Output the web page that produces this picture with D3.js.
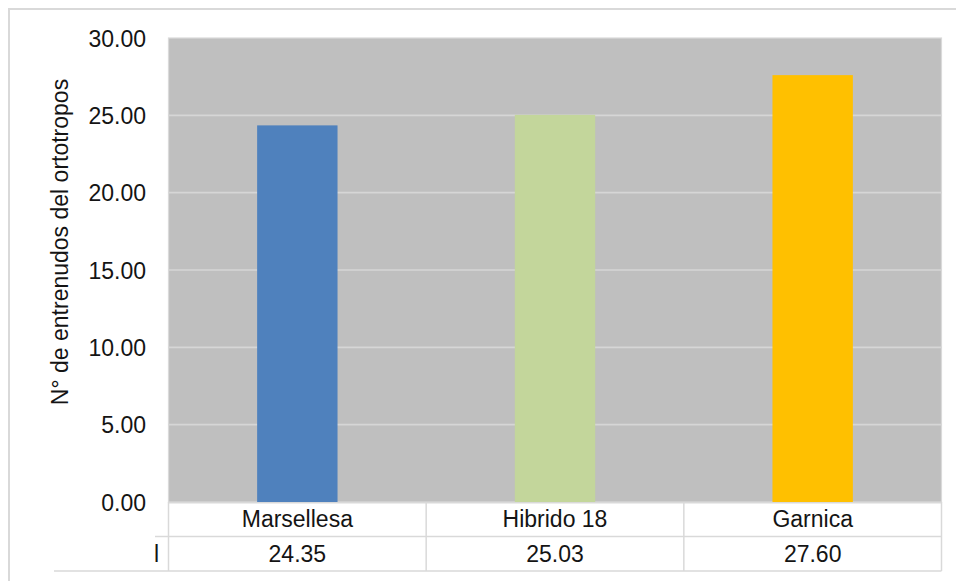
<!DOCTYPE html>
<html>
<head>
<meta charset="utf-8">
<script src="https://cdn.jsdelivr.net/npm/d3@7"></script>
<style>
  html, body { margin: 0; padding: 0; background: #fff; }
  svg { display: block; }
  text { font-family: "Liberation Sans", Arial, sans-serif; fill: #141414; }
</style>
</head>
<body>
<svg id="chart" width="956" height="581"></svg>
<script>
// Internode counts of the orthotropic stem per variety
const categories = ["Marsellesa", "Hibrido 18", "Garnica"];
const values = [24.35, 25.03, 27.60];
const barColors = ["#4f81bd", "#c3d69b", "#ffc000"];
const yTicks = [0, 5, 10, 15, 20, 25, 30];
const seriesName = "l";
const yTitle = "N° de entrenudos del ortotropos";

const svg = d3.select("#chart");
const plot = { left: 168.5, right: 941.5, top: 38, bottom: 502 };
const rowH = 34.5;

// outer chart frame
svg.append("rect")
  .attr("x", 9).attr("y", 9)
  .attr("width", 1000).attr("height", 1000)
  .attr("fill", "none")
  .attr("stroke", "#d9d9d9")
  .attr("stroke-width", 2);

const x = d3.scaleBand()
  .domain(categories)
  .range([plot.left, plot.right])
  .padding(0);

const y = d3.scaleLinear()
  .domain([0, 30])
  .range([plot.bottom, plot.top]);

// plot background
svg.append("rect")
  .attr("x", plot.left).attr("y", plot.top)
  .attr("width", plot.right - plot.left)
  .attr("height", plot.bottom - plot.top)
  .attr("fill", "#bfbfbf")
  .attr("stroke", "#dadada")
  .attr("stroke-width", 1.2);

// gridlines
svg.append("g")
  .selectAll("line")
  .data(yTicks.filter(t => t > 0 && t < 30))
  .join("line")
  .attr("x1", plot.left).attr("x2", plot.right)
  .attr("y1", d => y(d)).attr("y2", d => y(d))
  .attr("stroke", "#d6d6d6")
  .attr("stroke-width", 1.6);

// bars
const barFrac = 0.312;
svg.append("g")
  .selectAll("rect")
  .data(values)
  .join("rect")
  .attr("x", (d, i) => x(categories[i]) + x.bandwidth() * (1 - barFrac) / 2)
  .attr("width", x.bandwidth() * barFrac)
  .attr("y", d => y(d))
  .attr("height", d => y(0) - y(d))
  .attr("fill", (d, i) => barColors[i]);

// y axis labels
const yAxis = d3.axisLeft(y)
  .tickValues(yTicks)
  .tickFormat(d3.format(".2f"))
  .tickSize(0)
  .tickPadding(0);
const gy = svg.append("g")
  .attr("transform", `translate(146,0)`)
  .call(yAxis);
gy.select(".domain").remove();
gy.selectAll("text")
  .attr("font-size", 23)
  .attr("font-family", "'Liberation Sans', Arial, sans-serif")
  .attr("fill", "#141414")
  .attr("dy", "0.36em");

// y axis title
svg.append("text")
  .attr("transform", "translate(68,242) rotate(-90)")
  .attr("text-anchor", "middle")
  .attr("font-size", 23)
  .text(yTitle);

// data table below the plot
const tbl = svg.append("g").attr("stroke", "#d9d9d9").attr("stroke-width", 1.5);
tbl.append("line").attr("x1", plot.left).attr("x2", plot.right)
  .attr("y1", plot.bottom + 0.8).attr("y2", plot.bottom + 0.8);
tbl.append("line").attr("x1", 155).attr("x2", plot.right)
  .attr("y1", plot.bottom + rowH).attr("y2", plot.bottom + rowH);
tbl.append("line").attr("x1", 54).attr("x2", plot.right)
  .attr("y1", plot.bottom + 2 * rowH).attr("y2", plot.bottom + 2 * rowH);
const edges = categories.map(c => x(c)).concat([plot.right]);
tbl.selectAll(".v")
  .data(edges)
  .join("line")
  .attr("x1", d => d).attr("x2", d => d)
  .attr("y1", plot.bottom).attr("y2", plot.bottom + 2 * rowH);

svg.append("g")
  .selectAll("text")
  .data(categories)
  .join("text")
  .attr("x", d => x(d) + x.bandwidth() / 2)
  .attr("y", plot.bottom + 24.5)
  .attr("text-anchor", "middle")
  .attr("font-size", 23)
  .text(d => d);

svg.append("g")
  .selectAll("text")
  .data(values)
  .join("text")
  .attr("x", (d, i) => x(categories[i]) + x.bandwidth() / 2)
  .attr("y", plot.bottom + 60)
  .attr("text-anchor", "middle")
  .attr("font-size", 23)
  .text(d => d3.format(".2f")(d));

svg.append("text")
  .attr("x", 159)
  .attr("y", plot.bottom + 60)
  .attr("text-anchor", "end")
  .attr("font-size", 23)
  .text(seriesName);
</script>
</body>
</html>
